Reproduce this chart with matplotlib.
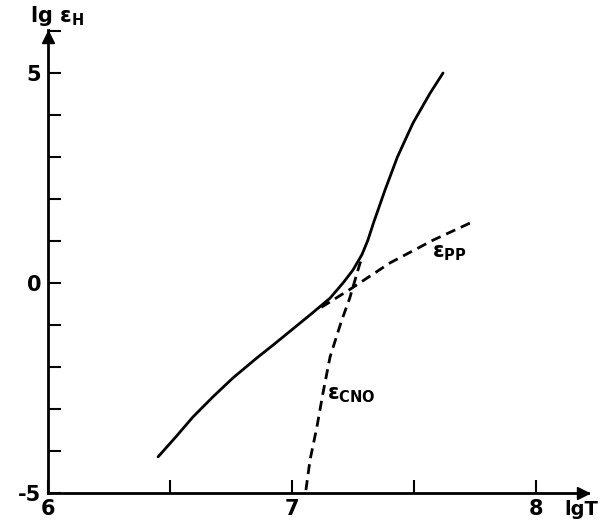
import numpy as np
import matplotlib.pyplot as plt
from matplotlib.ticker import MultipleLocator, FixedLocator

plt.rcParams['font.family'] = ['DejaVu Sans']
plt.rcParams['font.weight'] = 'bold'
plt.rcParams['axes.unicode_minus'] = False
plt.rcParams['mathtext.fontset'] = 'custom'
plt.rcParams['mathtext.rm'] = 'DejaVu Sans:bold'

# total hydrogen burning rate, lg eps_H vs lg T
lgT_total = [6.451, 6.520, 6.594, 6.676, 6.758, 6.861, 6.922, 7.074, 7.156,
             7.209, 7.250, 7.287, 7.311, 7.334, 7.381, 7.432, 7.496, 7.566,
             7.619]
lg_eps_total = [-4.14, -3.69, -3.19, -2.71, -2.26, -1.76, -1.48, -0.76, -0.36,
                0.0, 0.31, 0.68, 1.02, 1.43, 2.21, 3.0, 3.81, 4.52, 5.0]

# pp chain
lgT_pp = [7.12, 7.238, 7.402, 7.578, 7.738]
lg_eps_pp = [-0.58, -0.15, 0.48, 1.02, 1.45]

# CNO cycle
lgT_cno = [7.057, 7.074, 7.102, 7.127, 7.156, 7.203, 7.236, 7.275, 7.285]
lg_eps_cno = [-4.93, -4.21, -3.43, -2.62, -1.76, -0.90, -0.37, 0.40, 0.58]

x_ticks_major = [6, 7, 8]
x_ticks_minor = [6.5, 7.5]
y_labels = [-5, 0, 5]

W, H = 602, 522
fig = plt.figure(figsize=(W / 100, H / 100), dpi=100)
x0, x1, y0, y1 = 48, 588, 493, 30
ax = fig.add_axes([x0 / W, (H - y0) / H, (x1 - x0) / W, (y0 - y1) / H])

ax.set_xlim(6, 6 + (x1 - x0) / 244)
ax.set_ylim(-5, -5 + (y0 - y1) / 42)

dash = (3.6, 2.2)
ax.plot(lgT_total, lg_eps_total, color='black', lw=2.0,
        solid_capstyle='round', solid_joinstyle='round')
ax.plot(lgT_pp, lg_eps_pp, color='black', lw=2.0, dashes=dash)
ax.plot(lgT_cno, lg_eps_cno, color='black', lw=2.0, dashes=dash)

for side in ('top', 'right'):
    ax.spines[side].set_visible(False)
for side in ('left', 'bottom'):
    ax.spines[side].set_linewidth(2.0)

# arrow heads at the ends of the axes
ax.plot(0.99, 0, '>k', ms=9, transform=ax.transAxes, clip_on=False)
ax.plot(0, 0.985, '^k', ms=9, transform=ax.transAxes, clip_on=False)

ax.xaxis.set_major_locator(FixedLocator(x_ticks_major))
ax.xaxis.set_minor_locator(FixedLocator(x_ticks_minor))
ax.yaxis.set_major_locator(FixedLocator(y_labels))
ax.yaxis.set_minor_locator(MultipleLocator(1))
ax.tick_params(which='both', direction='in', length=9.4, width=1.5,
               labelsize=15)
ax.tick_params(axis='x', pad=4)
ax.tick_params(axis='y', pad=5)
ax.set_xticklabels([str(v) for v in x_ticks_major])
ax.set_yticklabels([str(v) for v in y_labels])

tkw = dict(fontsize=15, clip_on=False, va='baseline', ha='left')
ax.text(5.926, 6.21, r'lg ε$_{\mathrm{H}}$', **tkw)
ax.text(8.115, -5.52, 'lgT', fontsize=14, clip_on=False,
        va='baseline', ha='left')
ax.text(7.574, 0.62, r'ε$_{\mathrm{PP}}$', **tkw)
ax.text(7.143, -2.76, r'ε$_{\mathrm{CNO}}$', **tkw)

fig.savefig('out.png', dpi=100)
